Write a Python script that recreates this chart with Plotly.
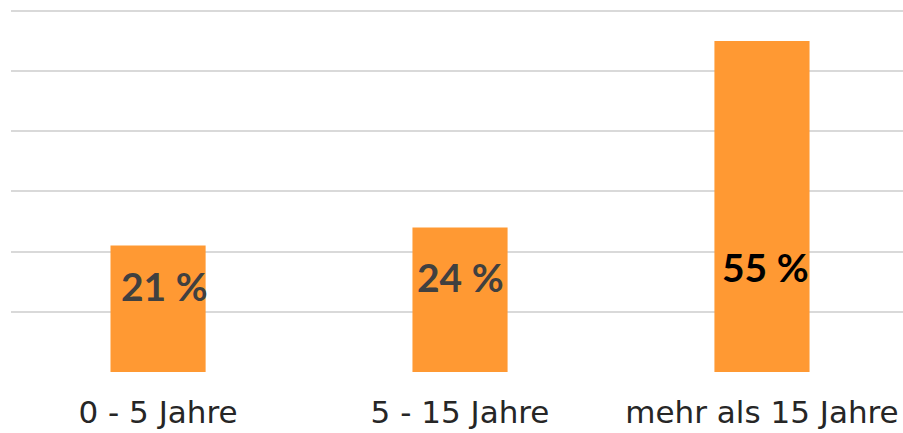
import plotly.graph_objects as go

categories = ["0 - 5 Jahre", "5 - 15 Jahre", "mehr als 15 Jahre"]
values = [21, 24, 55]
labels = ["21 %", "24 %", "55 %"]
label_colors = ["#404040", "#404040", "#000000"]
label_y = [14.3, 15.8, 17.5]
label_xshift = [6, 0, 4]

fig = go.Figure()
fig.add_trace(go.Bar(
    x=categories, y=values, marker=dict(color="#FF9933", line=dict(width=0)),
    width=0.315, hoverinfo="skip",
))
for c, lab, col, ly, xs in zip(categories, labels, label_colors, label_y, label_xshift):
    fig.add_annotation(x=c, y=ly, text=lab, showarrow=False, xshift=xs,
                       font=dict(family="Lato", size=39, color=col, weight="bold"))

fig.update_layout(
    width=903, height=433,
    margin=dict(l=11, r=0, t=0, b=61, pad=0, autoexpand=False),
    plot_bgcolor="white", paper_bgcolor="white",
    showlegend=False,
    xaxis=dict(range=[-0.487, 2.467], showgrid=False, zeroline=False, showline=False,
               tickfont=dict(family="DejaVu Sans", size=31, color="#262626"), ticks="",
               ticklabelstandoff=19, automargin=False),
    yaxis=dict(range=[0, 61.8], dtick=10, showgrid=True, gridcolor="#D9D9D9", gridwidth=2,
               zeroline=False, showticklabels=False, showline=False, automargin=False),
)
fig.write_html("out.html", config={"displayModeBar": False},
               post_script="document.body.style.margin='0';document.body.style.overflow='hidden';")
